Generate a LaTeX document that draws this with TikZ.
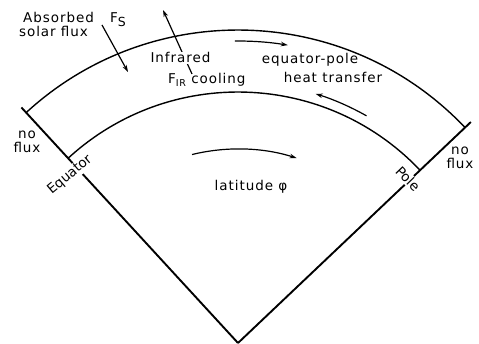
\documentclass[tikz,border=0pt]{standalone}
\usepackage{fontspec}
\setmainfont{DejaVu Sans}[LetterSpace=7]
\newfontfamily\plainfont{DejaVu Sans}
\usetikzlibrary{arrows.meta}
\begin{document}
\begin{tikzpicture}[x=1pt,y=1pt,
  every node/.style={font=\fontsize{13.5}{14.5}\selectfont, inner sep=1pt},
  lbl/.style={fill=white},
  rlbl/.style={fill=white, font=\plainfont\fontsize{13.5}{14.5}\selectfont},
  mainline/.style={line width=1.9pt},
  arcline/.style={line width=1.4pt},
  flow/.style={line width=1.2pt, -{Stealth[length=7pt,width=4.5pt]}}
]
\useasboundingbox (-238,0) rectangle (241,343);
\coordinate (apex) at (0,0);
\coordinate (ltop) at (132.6:320);
\coordinate (rtop) at (43.5:321);
\coordinate (lout) at (132.6:313);
\coordinate (lin) at (132.6:251);
\coordinate (up0) at (90.6:302);
\coordinate (lo0) at (60.5:261);
\coordinate (la0) at (103.7:194);
\coordinate (fs0) at (-136,318);
\coordinate (fs1) at (-110,271);
\coordinate (ir0) at (-46,269);
\coordinate (ir1) at (-75,333);
% radial lines
\draw[mainline] (apex) -- (ltop);
\draw[mainline] (apex) -- (rtop);
% arcs
\draw[arcline] (lout) arc[start angle=132.6, end angle=43.5, radius=313];
\draw[arcline] (lin) arc[start angle=132.6, end angle=43.5, radius=251];
% flows
\draw[flow] (up0) arc[start angle=90.6, end angle=80.5, radius=302];
\draw[flow] (lo0) arc[start angle=60.5, end angle=72.7, radius=261];
\draw[flow] (la0) arc[start angle=103.7, end angle=72.4, radius=194];
\draw[flow] (fs0) -- (fs1);
\draw[flow] (ir0) -- (ir1);
% labels
\node[anchor=base] (abs) at (-179.5,320) {Absorbed};
\node[anchor=base] (sol) at (-184.5,306) {solar flux};
\node[anchor=base west] (fs) at (-129,320) {F\raisebox{-4pt}{\fontsize{12.5}{12.5}\selectfont S}};
\node[anchor=base, lbl] (infra) at (-57.5,280) {Infrared};
\node[anchor=base west] (fir) at (-71,259) {F\raisebox{-3pt}{\fontsize{9.5}{10}\selectfont IR} cooling};
\node[anchor=base] (eqp) at (72,279) {equator-pole};
\node[anchor=base] (heat) at (95,260) {heat transfer};
\node[anchor=base] (lat) at (13,153) {latitude φ};
\node[align=center] (nfl) at (-211,201) {no\\flux};
\node[align=center] (nfr) at (222,185) {no\\flux};
\node[rlbl, rotate=40] (eq) at (-168,168) {Equator};
\node[rlbl, rotate=-46] (pole) at (170,164) {Pole};
\end{tikzpicture}
\end{document}
